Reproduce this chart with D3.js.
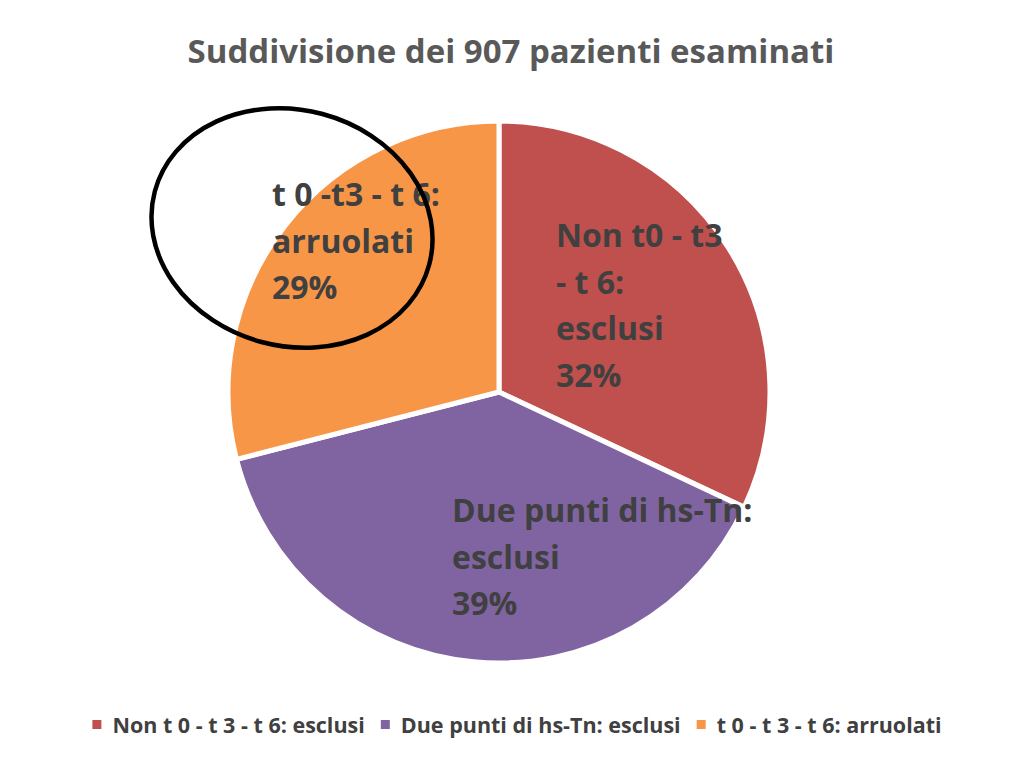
<!DOCTYPE html>
<html>
<head>
<meta charset="utf-8">
<script src="https://cdn.jsdelivr.net/npm/d3@7"></script>
<style>
  body { margin: 0; background: #fff; }
  svg { display: block; font-family: "Open Sans", Lato, sans-serif; font-weight: bold; }
</style>
</head>
<body>
<svg id="chart" width="1024" height="773"></svg>
<script>
// dati del grafico
const chartTitle = "Suddivisione dei 907 pazienti esaminati";
const categories = ["Non t 0 - t 3 - t 6: esclusi", "Due punti di hs-Tn: esclusi", "t 0 - t 3 - t 6: arruolati"];
const percentages = [32, 39, 29];
const sliceLabels = [["Non t0 - t3", "- t 6:", "esclusi"], ["Due punti di hs-Tn:", "esclusi"], ["t 0 -t3 - t 6:", "arruolati"]];
const colors = ["#C0504D", "#8064A2", "#F79646"];

const svg = d3.select("#chart");

// area del grafico
const attr_area = {
    cx: 499,
    cy: 392,
    radius: 271
};

// titolo
svg.append("text")
    .attr("x", 511)
    .attr("y", 63)
    .attr("text-anchor", "middle")
    .style("font-size", "33px")
    .style("fill", "#595959")
    .text(chartTitle);

// torta: parte da ore 12 in senso orario
const pie = d3.pie().sort(null).value(d => d);
const arcs = pie(percentages);
const arc = d3.arc().innerRadius(0).outerRadius(attr_area.radius);

const g = svg.append("g")
    .attr("transform", `translate(${attr_area.cx}, ${attr_area.cy})`);

g.selectAll("path")
    .data(arcs)
    .enter()
    .append("path")
    .attr("d", arc)
    .style("fill", (d, i) => colors[i])
    .style("stroke", "#fff")
    .style("stroke-width", 5)
    .style("stroke-linejoin", "round");

// etichette dentro le fette (posizione scelta a mano come nell'originale)
const labelPos = [[556, 247], [452, 522], [272, 206]];
const lineH = 46.5;
arcs.forEach((a, i) => {
    const lines = sliceLabels[i].concat([percentages[i] + "%"]);
    const t = svg.append("text")
        .attr("x", labelPos[i][0])
        .attr("y", labelPos[i][1])
        .style("font-size", "32px")
        .style("fill", "#404040");
    lines.forEach((s, k) => {
        t.append("tspan")
            .attr("x", labelPos[i][0])
            .attr("y", labelPos[i][1] + k * lineH)
            .text(s);
    });
});

// ellisse nera disegnata sopra
svg.append("ellipse")
    .attr("cx", 292)
    .attr("cy", 228)
    .attr("rx", 142)
    .attr("ry", 118)
    .attr("transform", "rotate(15, 292, 228)")
    .style("fill", "none")
    .style("stroke", "#000")
    .style("stroke-width", 4.5);

// legenda
const legend = svg.append("g");
let x = 0;
categories.forEach((c, i) => {
    const item = legend.append("g").attr("transform", `translate(${x}, 0)`);
    item.append("rect")
        .attr("x", 0)
        .attr("y", -13)
        .attr("width", 9)
        .attr("height", 9)
        .style("fill", colors[i]);
    const txt = item.append("text")
        .attr("x", 20)
        .attr("y", 0)
        .style("font-size", "21.5px")
        .style("fill", "#404040")
        .text(c);
    x += 20 + txt.node().getComputedTextLength() + 16;
});
const legendW = x - 16;
legend.attr("transform", `translate(${(1024 - legendW) / 2 + 5}, 733)`);
</script>
</body>
</html>
